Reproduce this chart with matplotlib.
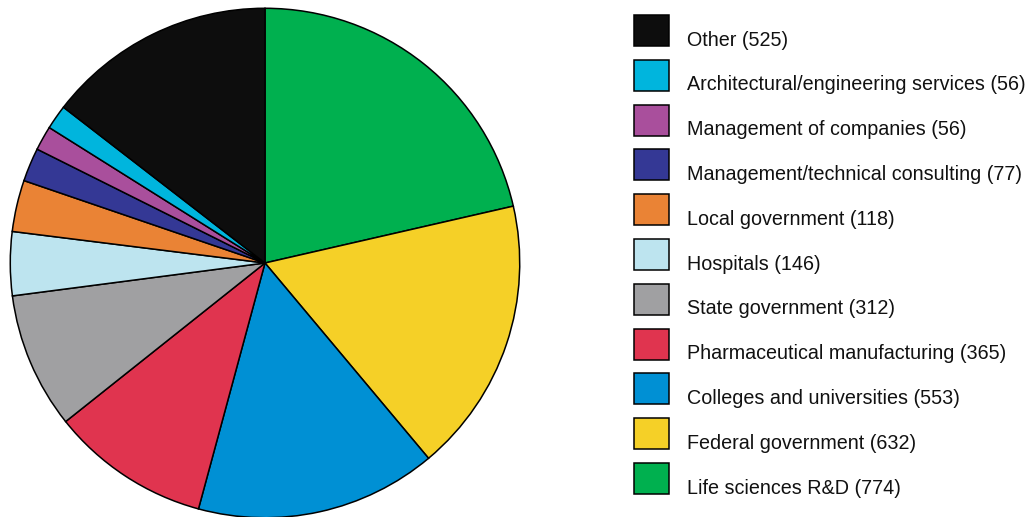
import matplotlib.pyplot as plt
from matplotlib.patches import Rectangle

# pie order: clockwise from 12 o'clock
labels = ["Life sciences R&D", "Federal government", "Colleges and universities",
          "Pharmaceutical manufacturing", "State government", "Hospitals",
          "Local government", "Management/technical consulting",
          "Management of companies", "Architectural/engineering services", "Other"]
values = [774, 632, 553, 365, 312, 146, 118, 77, 56, 56, 525]
colors = ["#00b04f", "#f5d027", "#0090d4", "#e0344f", "#a0a0a2", "#bde4ef",
          "#ea8335", "#343895", "#a94f9c", "#00b5dd", "#0d0d0d"]

plt.rcParams['font.family'] = ['Liberation Sans', 'DejaVu Sans']

W, H = 1034, 517
fig = plt.figure(figsize=(W / 100, H / 100), dpi=100)

# pie axes, centre (265, 263) px, radius 256 px
cx, cy, r = 265, 263, 256
ax = fig.add_axes([(cx - r) / W, (H - cy - r) / H, 2 * r / W, 2 * r / H])
ax.pie(values, colors=colors, startangle=90, counterclock=False, radius=1,
       wedgeprops=dict(edgecolor="black", linewidth=1.1))
ax.set_xlim(-1.005, 1.005)
ax.set_ylim(-1.005, 1.005)
ax.axis("off")

# legend drawn in pixel coordinates, top entry is "Other"
lg = fig.add_axes([0, 0, 1, 1])
lg.set_xlim(0, W)
lg.set_ylim(H, 0)
lg.axis("off")
step = 44.8
for i, k in enumerate(range(len(labels) - 1, -1, -1)):
    top = 15 + i * step
    lg.add_patch(Rectangle((634, top), 35, 31, facecolor=colors[k],
                           edgecolor="black", linewidth=1.1))
    lg.text(687, 45.7 + i * step, f"{labels[k]} ({values[k]})", fontsize=14.25,
            va="baseline", ha="left", color="#111111")

fig.savefig("out.png", dpi=100)
